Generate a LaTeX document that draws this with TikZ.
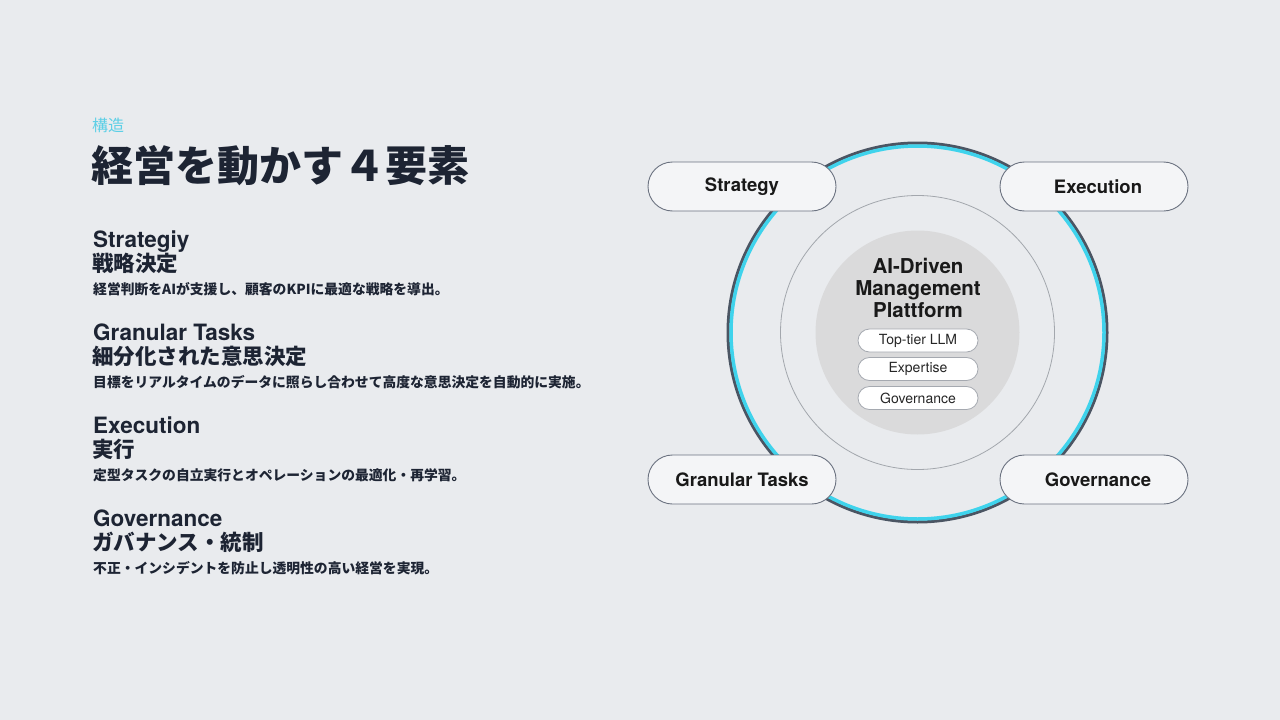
\documentclass[tikz,border=0pt]{standalone}
\usepackage{fontspec}
\setmainfont{TeX Gyre Heros}
\newfontfamily\jpfont{Noto Sans CJK JP}
\definecolor{bgc}{HTML}{E9EBEE}
\definecolor{navy}{HTML}{1D2433}
\definecolor{cyanlbl}{HTML}{5CCFE6}
\definecolor{ringdark}{HTML}{4B5563}
\definecolor{ringcyan}{HTML}{3FD3EC}
\definecolor{pillborder}{HTML}{6B7280}
\definecolor{pillfill}{HTML}{F4F5F7}
\definecolor{discfill}{HTML}{DADADB}
\definecolor{thinring}{HTML}{A3A7AD}
\definecolor{smallborder}{HTML}{A5A9B0}
\begin{document}
\begin{tikzpicture}[x=1pt,y=-1pt,
  txt/.style={inner sep=0pt, anchor=base west, text=navy},
  entitle/.style={txt, font=\bfseries\fontsize{22.5}{22.5}\selectfont},
  jptitle/.style={txt, font=\jpfont\bfseries\fontsize{21.5}{21.5}\selectfont},
  jpdesc/.style={txt, font=\jpfont\bfseries\fontsize{13.8}{13.8}\selectfont},
  bigpill/.style={draw=pillborder, fill=pillfill, line width=0.9pt, rounded corners=24.5pt,
    minimum width=188pt, minimum height=49pt, inner sep=0pt,
    font=\bfseries\fontsize{18.5}{18.5}\selectfont, text=black!90},
  smallpill/.style={draw=smallborder, fill=white, line width=0.8pt, rounded corners=11.5pt,
    minimum width=120pt, minimum height=23pt, inner sep=0pt,
    font=\fontsize{14}{14}\selectfont, text=black!85},
  ringc/.style={circle, inner sep=0pt}
]
\fill[bgc] (0,0) rectangle (1280,720);
\coordinate (c) at (917.5,332.5);

% circles
\node[ringc, draw=ringdark, line width=3pt, minimum size=379pt] (outerring) at (c) {};
\node[ringc, draw=ringcyan, line width=3.5pt, minimum size=373pt] (cyanring) at (c) {};
\node[ringc, draw=thinring, line width=0.8pt, minimum size=274pt] (thin) at (c) {};
\node[ringc, fill=discfill, minimum size=204pt] (disc) at (c) {};

% center text
\node[align=center, text=black!90, font=\bfseries\fontsize{20.5}{22}\selectfont, inner sep=0pt] (core) at (918,287.5) {AI-Driven\\Management\\Plattform};
\node[smallpill] (llm) at (918,340.5) {Top-tier LLM};
\node[smallpill] (exp) at (918,369) {Expertise};
\node[smallpill] (gov) at (918,398) {Governance};

% outer pills
\node[bigpill] (strategy) at (742,186.5) {Strategy};
\node[bigpill] (execution) at (1094,186.5) {\hspace{8pt}Execution};
\node[bigpill] (granular) at (742,479.5) {Granular Tasks};
\node[bigpill] (governance) at (1094,479.5) {\hspace{8pt}Governance};

% left column
\node[txt, font=\jpfont\fontsize{16}{16}\selectfont, text=cyanlbl] (kozo) at (92,131.5) {構造};
\node[txt, font=\jpfont\bfseries\fontsize{42}{42}\selectfont] (title) at (91,181) {経営を動かす４要素};

\node[entitle] (h1) at (93,247) {Strategiy};
\node[jptitle] (j1) at (92,271) {戦略決定};
\node[jpdesc] (d1) at (93,294.5) {経営判断をAIが支援し、顧客のKPIに最適な戦略を導出。};

\node[entitle] (h2) at (93,340) {Granular Tasks};
\node[jptitle] (j2) at (92,364) {細分化された意思決定};
\node[jpdesc] (d2) at (93,387.5) {目標をリアルタイムのデータに照らし合わせて高度な意思決定を自動的に実施。};

\node[entitle] (h3) at (93,433) {Execution};
\node[jptitle] (j3) at (92,457) {実行};
\node[jpdesc] (d3) at (93,480.5) {定型タスクの自立実行とオペレーションの最適化・再学習。};

\node[entitle] (h4) at (93,526) {Governance};
\node[jptitle] (j4) at (92,550) {ガバナンス・統制};
\node[jpdesc] (d4) at (93,573.5) {不正・インシデントを防止し透明性の高い経営を実現。};
\end{tikzpicture}
\end{document}
